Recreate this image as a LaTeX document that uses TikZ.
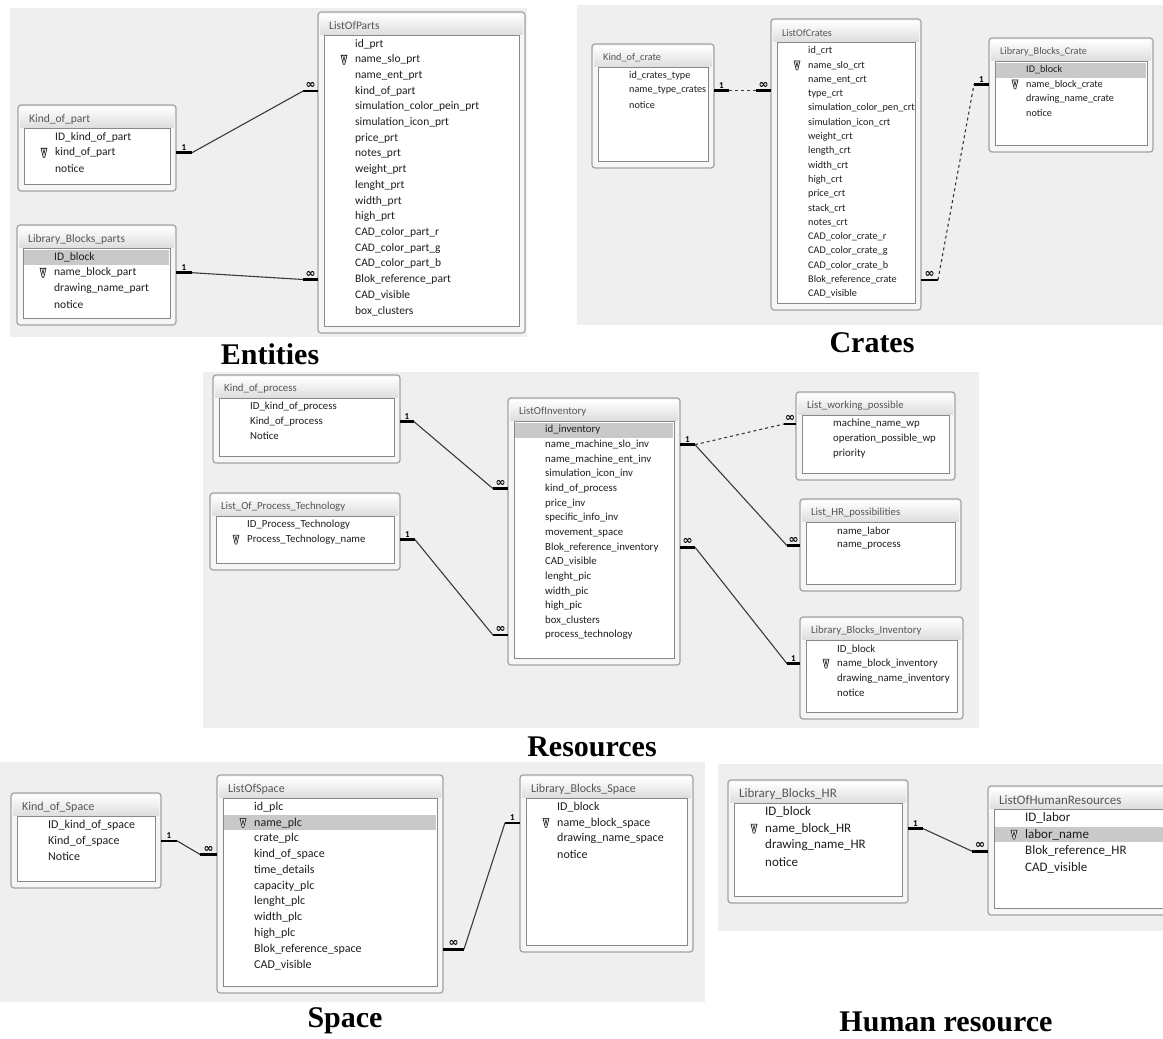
\documentclass[tikz,border=0pt]{standalone}
\usepackage{fontspec}
\setmainfont{Liberation Serif}
\newfontfamily\tabfont{Carlito}
\newfontfamily\symfont{DejaVu Sans}
\usetikzlibrary{fit}
\definecolor{cPanel}{HTML}{EFEFEF}
\definecolor{cFrame}{HTML}{A2A2A2}
\definecolor{cFrameFill}{HTML}{F6F6F6}
\definecolor{cList}{HTML}{888888}
\definecolor{cMark}{HTML}{C9C9C9}
\definecolor{cLine}{HTML}{3A3A3A}
\definecolor{cText}{HTML}{1E1E1E}

% row pitch and font size, reset for every group of tables
\def\rowgap{15.7}
\def\fsz{11.5}

\tikzset{
  panel/.style={fill=cPanel, draw=none},
  tframe/.style={draw=cFrame, fill=cFrameFill, line width=1.2pt, rounded corners=3pt,
                 inner sep=0pt, outer sep=0pt},
  tlist/.style={draw=cList, fill=white, line width=0.8pt},
  ttitle/.style={anchor=west, inner sep=0pt, text=cText!75,
                 font=\tabfont\fontsize{\fsz}{\fsz}\selectfont},
  tfield/.style={anchor=west, inner sep=0pt, text=cText,
                 font=\tabfont\fontsize{\fsz}{\fsz}\selectfont},
  markrow/.style={fill=cMark},
  rel/.style={draw=cLine, line width=1.1pt},
  stub/.style={draw=black, line width=2.6pt},
  card/.style={above, inner sep=1pt, font=\tabfont\bfseries\fontsize{9}{9}\selectfont},
  caption/.style={font=\bfseries\fontsize{30}{30}\selectfont},
  pkkey/.pic={
    \draw[line width=0.6pt, fill=white] (-3,-4.5) -- (3,-4.5) -- (0.8,4.5) -- (-0.8,4.5) -- cycle;
    \draw[line width=0.5pt] (-1.2,-4.5) -- (0,1.5) -- (1.2,-4.5);
  },
}

% #1 name, #2 top left, #3 bottom right, #4 title, #5 key row, #6 marked row, #7 fields
\newcommand{\dbtable}[7]{%
  \node[tframe, fit={(#2) (#3)}] (#1) {};
  \shade[top color=white, bottom color=cPanel!85!gray]
    ([shift={(2,2)}]#1.north west) rectangle ([shift={(-2,22)}]#1.north east);
  \node[ttitle] (#1-t) at ([shift={(11,14)}]#1.north west) {#4};
  \draw[tlist] ([shift={(6,23)}]#1.north west) rectangle ([shift={(-6,-7)}]#1.south east);
  \ifnum#6>0
    \fill[markrow] ([shift={(7,{32+(#6-1)*\rowgap-7.5})}]#1.north west)
      rectangle ([shift={(-7,{32+(#6-1)*\rowgap+7.5})}]#1.north east);
  \fi
  \ifnum#5>0
    \pic at ([shift={(26,{32+(#5-1)*\rowgap})}]#1.north west) {pkkey};
  \fi
  \foreach \f [count=\i] in {#7}
    \node[tfield] (#1-\i) at ([shift={(37,{32+(\i-1)*\rowgap})}]#1.north west) {\f};
}

% relationship line with its two end bars
\newcommand{\rellink}[7][]{%
  \draw[stub] (#2) -- node[card] {#3} ++(#4,0) coordinate (ra);
  \draw[stub] (#5) -- node[card] {#6} ++(#7,0) coordinate (rb);
  \draw[rel,#1] (ra) -- (rb);
}
\newcommand{\cmany}{{\symfont\bfseries\fontsize{12}{6}\selectfont ∞}}

\begin{document}
\begin{tikzpicture}[x=1pt, y=-1pt]
  \useasboundingbox (0,0) rectangle (1163,1039);
  \clip (0,0) rectangle (1163,1039);
  \fill[white] (0,0) rectangle (1163,1039);

  % grey panels
  \fill[panel] (10,8) rectangle (527,337);
  \fill[panel] (577,5) rectangle (1163,325);
  \fill[panel] (203,372) rectangle (979,728);
  \fill[panel] (0,762) rectangle (705,1002);
  \fill[panel] (718,764) rectangle (1163,931);

  % parts
  \def\rowgap{15.7}\def\fsz{11.5}
  \dbtable{kop}{18,105}{176,191}{Kind\_of\_part}{2}{0}{ID\_kind\_of\_part, kind\_of\_part, notice}
  \dbtable{lbp}{17,225}{176,325}{Library\_Blocks\_parts}{2}{1}{ID\_block, name\_block\_part, drawing\_name\_part, notice}
  \dbtable{lop}{318,12}{525,333}{ListOfParts}{2}{0}{id\_prt, name\_slo\_prt, name\_ent\_prt, kind\_of\_part,
    simulation\_color\_pein\_prt, simulation\_icon\_prt, price\_prt, notes\_prt, weight\_prt, lenght\_prt,
    width\_prt, high\_prt, CAD\_color\_part\_r, CAD\_color\_part\_g, CAD\_color\_part\_b,
    Blok\_reference\_part, CAD\_visible, box\_clusters}
  \rellink{kop.east |- kop-2}{1}{16}{lop.west |- lop-4}{\cmany}{-15}
  \rellink{lbp.east |- lbp-2}{1}{16}{lop.west |- lop-16}{\cmany}{-15}
  \node[caption] (capEnt) at (270,354) {Entities};

  % crates
  \def\rowgap{14.3}\def\fsz{10.2}
  \dbtable{koc}{592,44}{714,168}{Kind\_of\_crate}{0}{0}{id\_crates\_type, name\_type\_crates, notice}
  \dbtable{loc}{771,19}{921,310}{ListOfCrates}{2}{0}{id\_crt, name\_slo\_crt, name\_ent\_crt, type\_crt,
    simulation\_color\_pen\_crt, simulation\_icon\_crt, weight\_crt, length\_crt, width\_crt, high\_crt,
    price\_crt, stack\_crt, notes\_crt, CAD\_color\_crate\_r, CAD\_color\_crate\_g, CAD\_color\_crate\_b,
    Blok\_reference\_crate, CAD\_visible}
  \dbtable{lbc}{989,38}{1153,152}{Library\_Blocks\_Crate}{2}{1}{ID\_block, name\_block\_crate, drawing\_name\_crate, notice}
  \rellink[dashed]{koc.east |- koc-2}{1}{15}{loc.west |- koc-2}{\cmany}{-15}
  \rellink[dashed]{loc.east |- loc-17}{\cmany}{17}{lbc.west |- lbc-2}{1}{-15}
  \node[caption] (capCrt) at (872,343) {Crates};

  % inventory
  \def\rowgap{14.65}\def\fsz{10.8}
  \dbtable{kpr}{213,375}{400,463}{Kind\_of\_process}{0}{0}{ID\_kind\_of\_process, Kind\_of\_process, Notice}
  \dbtable{lpt}{210,493}{400,570}{List\_Of\_Process\_Technology}{2}{0}{ID\_Process\_Technology, Process\_Technology\_name}
  \dbtable{linv}{508,398}{680,665}{ListOfInventory}{0}{1}{id\_inventory, name\_machine\_slo\_inv,
    name\_machine\_ent\_inv, simulation\_icon\_inv, kind\_of\_process, price\_inv, specific\_info\_inv,
    movement\_space, Blok\_reference\_inventory, CAD\_visible, lenght\_pic, width\_pic, high\_pic,
    box\_clusters, process\_technology}
  \dbtable{lwp}{796,392}{955,480}{List\_working\_possible}{0}{0}{machine\_name\_wp, operation\_possible\_wp, priority}
  \dbtable{lhp}{800,499}{961,591}{List\_HR\_possibilities}{0}{0}{name\_labor, name\_process}
  \dbtable{lbi}{800,617}{963,719}{Library\_Blocks\_Inventory}{2}{0}{ID\_block, name\_block\_inventory, drawing\_name\_inventory, notice}
  \rellink{kpr.east |- kpr-2}{1}{14}{linv.west |- linv-5}{\cmany}{-15}
  \rellink{lpt.east |- lpt-2}{1}{15}{linv.west |- linv-15}{\cmany}{-15}
  \rellink[dashed]{linv.east |- linv-2}{1}{15}{lwp.west |- lwp-1}{\cmany}{-12}
  \rellink{linv.east |- linv-2}{}{15}{lhp.west |- lhp-2}{\cmany}{-13}
  \rellink{linv.east |- linv-9}{\cmany}{15}{lbi.west |- lbi-2}{1}{-13}
  \node[caption] (capRes) at (592,747) {Resources};

  % space
  \def\rowgap{15.8}\def\fsz{12}
  \dbtable{kos}{11,793}{161,888}{Kind\_of\_Space}{0}{0}{ID\_kind\_of\_space, Kind\_of\_space, Notice}
  \dbtable{los}{217,775}{443,993}{ListOfSpace}{2}{2}{id\_plc, name\_plc, crate\_plc, kind\_of\_space,
    time\_details, capacity\_plc, lenght\_plc, width\_plc, high\_plc, Blok\_reference\_space, CAD\_visible}
  \dbtable{lbs}{520,775}{693,952}{Library\_Blocks\_Space}{2}{0}{ID\_block, name\_block\_space, drawing\_name\_space, notice}
  \rellink{kos.east |- kos-2}{1}{16}{los.west |- los-4}{\cmany}{-17}
  \rellink{los.east |- los-10}{\cmany}{21}{lbs.west |- lbs-2}{1}{-15}
  \node[caption] (capSpc) at (345,1021) {Space};

  % human resources
  \def\rowgap{16.6}\def\fsz{13}
  \dbtable{lbhr}{728,780}{908,903}{Library\_Blocks\_HR}{2}{0}{ID\_block, name\_block\_HR, drawing\_name\_HR, notice}
  \dbtable{lohr}{988,786}{1172,915}{ListOfHumanResources}{2}{2}{ID\_labor, labor\_name, Blok\_reference\_HR, CAD\_visible}
  \rellink{lbhr.east |- lbhr-2}{1}{15}{lohr.west |- lohr-3}{\cmany}{-16}
  \node[caption] (capHR) at (946,1022) {Human resource};
\end{tikzpicture}
\end{document}
